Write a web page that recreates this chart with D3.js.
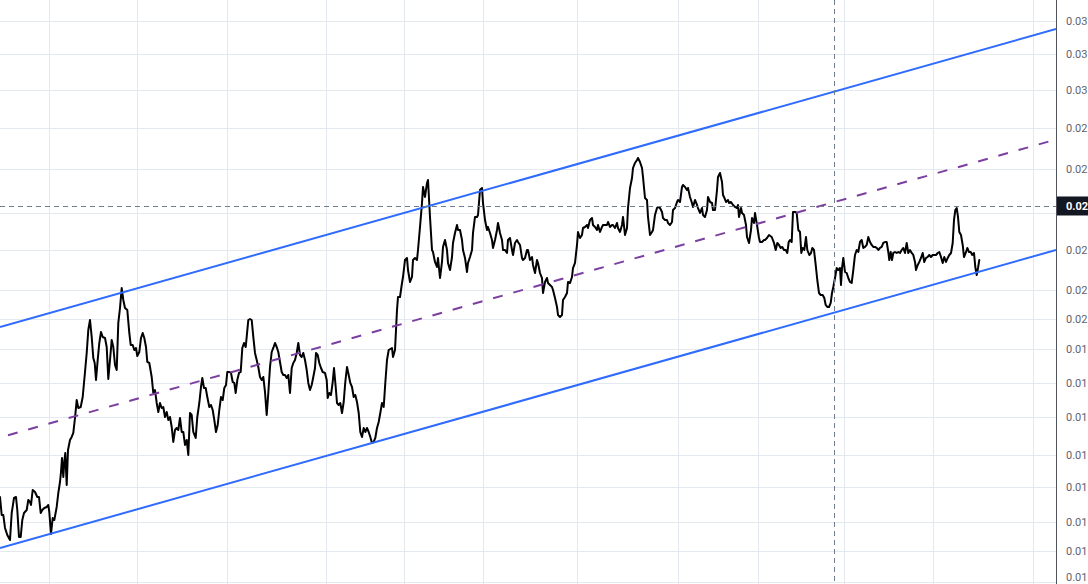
<!DOCTYPE html>
<html><head><meta charset="utf-8">
<script src="https://cdn.jsdelivr.net/npm/d3@7"></script>
<style>html,body{margin:0;padding:0;background:#fff;}svg{display:block;}</style>
</head><body><svg id="c" width="1088" height="584"></svg>
<script>
// ---- data ----
const yTickValues = [0.034,0.032,0.030,0.028,0.026,0.024,0.02242,0.02085,0.01978,0.01873,0.01761,0.01655,0.01545,0.01457,0.01367,0.01297,0.01226];
const yTickLabels = ["0.03","0.03","0.03","0.02","0.02","0.02","0.02","0.02","0.02","0.01","0.01","0.01","0.01","0.01","0.01","0.01","0.01"];
const xGridDays = [24.65,68.25,113.65,162.75,202.15,241.65,288.65,339.15,378.75,422,466.25,516.65];
const upperChannel = [[0,0.019492],[528,0.033509]];
const lowerChannel = [[0,0.013042],[528,0.022421]];
const midChannel = [[4,0.016012],[528,0.027410]];
const crossDay = 417;
const crossPrice = 0.024289;
const crossLabel = "0.02";
const priceSeries = [
[0,0.014310],[0.85,0.013849],[1.65,0.013849],[2.5,0.013526],[3.65,0.013355],[5,0.013233],[5.85,0.013899],[7,0.014284],[8,0.014310],[8.65,0.013975],
[9.5,0.013306],[10.35,0.013306],[11.15,0.013723],[12,0.013899],[13.35,0.013975],[14.15,0.014231],[15,0.014180],[15.5,0.014103],[16.35,0.014493],[17.5,0.014440],
[18.65,0.014310],[19.5,0.014310],[20.35,0.013899],[21.15,0.013975],[22.15,0.014027],[23.35,0.014052],[24.15,0.014103],[24.65,0.013925],[25.5,0.013379],[26.35,0.013773],
[27.15,0.013723],[28.35,0.014052],[29.15,0.014414],[30,0.014705],[30.5,0.014975],[31,0.015361],[31.65,0.014840],[32.15,0.015250],[32.65,0.015502],[33.35,0.014625],
[34,0.015586],[35,0.015872],[35.85,0.015959],[36.65,0.016076],[37.5,0.016520],[38.35,0.017069],[39.15,0.016823],[40.35,0.016854],[41.35,0.017163],[42.5,0.017961],
[43.35,0.018593],[44.15,0.019386],[45,0.019742],[45.85,0.019142],[46.65,0.018424],[47.35,0.018257],[48,0.017701],[48.85,0.018357],[49.65,0.018934],[50.5,0.019316],
[51.35,0.019142],[52.5,0.019107],[53.35,0.018796],[54.15,0.017734],[55,0.018357],[55.85,0.019037],[56.65,0.018796],[57.5,0.018191],[58.35,0.018026],[59.15,0.019635],
[60,0.020177],[60.85,0.020924],[61.65,0.020473],[62.5,0.020177],[63.65,0.020104],[64.65,0.019281],[65.35,0.018865],[66.35,0.018865],[67.15,0.018694],[68,0.018762],
[68.65,0.018491],[69.65,0.018626],[70.5,0.019107],[71.35,0.019281],[72.15,0.019107],[73,0.018796],[73.65,0.018291],[74.65,0.018257],[75.85,0.017799],[76.65,0.017288],
[77.5,0.017382],[78.35,0.016977],[79.15,0.016701],[80,0.016977],[80.85,0.016823],[81.65,0.016854],[82.5,0.016550],[83.35,0.016701],[84.15,0.016460],[85,0.016550],
[85.85,0.016252],[86.65,0.015815],[87.5,0.016163],[88.35,0.016222],[89.15,0.016163],[90,0.016520],[90.85,0.016105],[91.65,0.016105],[92.5,0.015729],[93.35,0.015872],
[94.15,0.015445],
[95,0.016671],[95.85,0.016611],[96.65,0.016105],[97.85,0.015930],[98.65,0.016550],[99.65,0.016977],[100.5,0.017478],[101.15,0.017766],[102,0.017446],[102.85,0.017446],
[103.65,0.017163],[104.65,0.016854],[105.5,0.016915],[106.35,0.016762],[107.15,0.016460],[108,0.016105],[108.85,0.016311],[109.65,0.016762],[110.5,0.017163],[111.35,0.017069],
[112.15,0.017446],[113,0.017542],[113.65,0.017961],[114.65,0.017961],[115.5,0.017929],[116.35,0.017637],[117.15,0.017606],[117.85,0.017288],[118.65,0.017701],[119.5,0.017929],
[120.35,0.017961],[121.15,0.018762],[122,0.018934],[122.85,0.018796],[123.35,0.019142],[124.15,0.019742],[125,0.019778],[125.85,0.019742],[126.65,0.019142],[127.5,0.018593],
[128.35,0.018357],[129.15,0.018125],[130,0.017799],[130.85,0.017701],[131.65,0.017799],[132.5,0.017320],[133.35,0.016611],[134.15,0.017288],[135,0.018125],[135.85,0.018626],
[136.65,0.018762],[137.5,0.018934],[138.35,0.018796],[139.15,0.018626],[140,0.018291],[140.85,0.017961],[141.65,0.017864],[142.5,0.017864],[143.35,0.017766],[144.15,0.017864],
[145,0.017288],[145.85,0.018092],[146.65,0.018257],[147.5,0.018357],[148.35,0.018593],[149.15,0.018934],[150,0.018525],[150.85,0.018458],[151.65,0.018593],[152.5,0.018357],
[153.35,0.018026],[154.15,0.017606],[155,0.017382],[155.85,0.017542],[156.65,0.017799],[157.5,0.018092],[158,0.018593],[158.85,0.018525],[159.65,0.018257],[160.5,0.018092],
[161.35,0.017961],[162.5,0.017929],[163.35,0.017701],[163.85,0.017132],[164.65,0.017288],[165.5,0.017226],[166.35,0.017637],[167,0.018092],[167.85,0.017478],[168.5,0.016977],
[169.35,0.016915],[170.15,0.016977],[171,0.016671],[171.85,0.017008],[172.65,0.017637],[173.5,0.018125],[174.35,0.017864],[175.15,0.017606],[176,0.017478],[176.85,0.017163],
[177.65,0.017226],[178.5,0.017008],[179.35,0.016671],[180.15,0.016105],[181,0.015959],[181.85,0.016222],[182.65,0.016105],[183.5,0.016222],[184.35,0.016105],[185.15,0.015959],
[186,0.015786],[186.85,0.015815],[187.65,0.015930],[188.5,0.016222],[189.35,0.016400],[190.15,0.016671],[191,0.016977],[191.85,0.016854],[192.65,0.017606],[193.5,0.018357],
[194.35,0.018694],
[196,0.018762],[196.5,0.018458],[197.5,0.018694],[198.5,0.020104],[199,0.020585],[200,0.020585],[201,0.021116],[201.5,0.021347],[202.5,0.022017],[203.5,0.022098],
[204,0.021620],[205,0.021154],[206,0.021347],[206.5,0.022017],[207.5,0.022098],[208.5,0.022017],[209,0.022421],[210,0.023379],[211,0.024422],[211.5,0.025143],
[212.5,0.024690],[213.5,0.025326],[214,0.025464],[215,0.023809],[216,0.022421],[216.5,0.022340],[217.5,0.021938],[218.5,0.021739],[219,0.022098],[220,0.021308],
[221,0.021938],[221.5,0.022545],[222.5,0.022832],[223.5,0.022421],[224,0.021898],[225,0.021620],[226,0.022138],[226.5,0.022709],[227.5,0.023126],[228.5,0.023464],
[229,0.023251],[230,0.023251],[231,0.022832],[231.5,0.022421],[232.5,0.022098],[233.5,0.021542],[234,0.021898],[235,0.022138],[236,0.022421],[236.5,0.023126],
[237.5,0.023809],[238.5,0.023809],[239,0.023895],[240,0.025005],[241,0.025097],[241.5,0.024422],[242.5,0.023678],[243.5,0.023251],[244,0.023379],[245,0.023126],
[246,0.022832],[246.5,0.022504],[247.5,0.022832],[248.5,0.023251],[249,0.023550],[250,0.023126],[251,0.022832],[251.5,0.022421],[252.5,0.022421],[253.5,0.022300],
[254,0.022832],[255,0.022916],[256,0.022421],[256.5,0.022219],[257.5,0.022709],[258.5,0.022832],[259,0.022750],[260,0.022627],[261,0.022098],[261.5,0.022017],
[262.5,0.022098],[263.5,0.022421],[264,0.022421],[265,0.022017],[266,0.022138],[266.5,0.021819],[267.5,0.021503],[268.5,0.022017],[269,0.021898],[270,0.021503],
[271,0.021308],[271.5,0.020735],[272.5,0.021154],[273.5,0.021308],[274,0.021116],[275,0.021039],[276,0.020963],[276.5,0.020848],[277.5,0.020547],[278.5,0.020214],
[279,0.019923],[280,0.019850],[281,0.019923],[281.5,0.020473],[282.5,0.020585],[283.5,0.020735],[284,0.021154],[285,0.021116],[286,0.021347],[286.5,0.021699],
[287.5,0.021898],[288.5,0.022627],[289,0.023168],[290,0.022916],[291,0.023042],[291.5,0.023336],[292.5,0.023379],[293.5,0.023464],[294,0.023336],[295,0.023678],
[296,0.023765],[296.5,0.023464],[297.5,0.023379],[298.5,0.023251],[299,0.023464],[300,0.023168],[301,0.023379],[301.5,0.023464],[303.5,0.023464],[304,0.023593],
[305,0.023379],[306,0.023464],[306.5,0.023464],[307.5,0.023336],[308.5,0.023550],[309,0.023336],[310,0.023168],[311,0.023464],[311.5,0.023809],[312.5,0.023042],
[313.5,0.023336],[314,0.024200],[315,0.025097],[316,0.025558],[316.5,0.026026],[317.5,0.026264],[318.5,0.026407],[319,0.026504],[320,0.026312],[321,0.026026],
[321.5,0.025604],[322.5,0.024645],[323.5,0.024555],[324,0.023809],[325,0.023042],[326,0.023168],[326.5,0.023251],[327.5,0.023895],[328.5,0.024200],[329,0.024245],
[330,0.024200],[331,0.024026],[331.5,0.023765],[332.5,0.023678],[333.5,0.023678],[334,0.023550],[335,0.023464],[336,0.023593],[336.5,0.024112],[337.5,0.024200],
[338.5,0.024466],[339,0.024555],[340,0.024466],[341,0.025143],[341.5,0.025235],[342.5,0.025143],[343.5,0.025005],[344,0.025097],[345,0.024690],[346,0.024422],
[346.5,0.024245],[347.5,0.024555],[348.5,0.024333],[349,0.024200],[350,0.023982],[351,0.024200],[351.5,0.023895],[352.5,0.023809],[353.5,0.024112],[354,0.024690],
[355,0.024466],[356,0.024422],[356.5,0.024112],[357.5,0.024112],[358.5,0.025005],[359,0.025604],[360,0.025791],
[361,0.025372],[361.5,0.024780],[362,0.024690],[363,0.024466],[364,0.024555],[364.5,0.024422],[365.5,0.024466],[366.5,0.024333],[367.5,0.024245],[368.5,0.024200],
[369,0.024333],[369.5,0.023809],[370.5,0.024200],[371,0.023982],[372,0.023895],[373,0.023464],[373.5,0.022958],[374.5,0.022709],[375.5,0.023251],[376,0.023765],
[377,0.023550],[377.5,0.023982],[378.5,0.023464],[379.5,0.022916],[380,0.022750],[381,0.022750],[382,0.022832],[382.5,0.022832],[383.5,0.022916],[384.5,0.023042],
[385.85,0.022958],[387,0.022709],[387.85,0.022421],[388.65,0.022709],[389.5,0.022627],[390.35,0.022504],[391.15,0.022545],[392,0.022421],[392.85,0.022421],[393.65,0.022300],
[394.35,0.022750],[395,0.022832],[395.85,0.022750],[396.5,0.024026],[397.5,0.024026],[398.35,0.023982],[399.15,0.023251],[400,0.023168],[400.65,0.022300],[401.35,0.022504],
[402.15,0.022421],[403,0.022958],[403.65,0.022421],[404.65,0.022219],[405.5,0.022300],[406.15,0.022504],[407,0.022421],[407.85,0.021819],[408.65,0.021231],[409.5,0.020735],
[410.35,0.020660],[411.35,0.020660],[412.15,0.020547],[412.85,0.020288],[413.65,0.020214],[414.5,0.020214],[415.35,0.020362],[416,0.020735],[416.65,0.020963],[417.5,0.021308],
[418.35,0.021699],[419.15,0.021620],[420,0.021699],[420.5,0.021039],[421,0.021699],[421.65,0.022098],[422.5,0.021542],[423.35,0.021503],[424.15,0.021308],[425,0.021154],
[425.85,0.021116],[426.65,0.021620],[427.5,0.022219],[428.35,0.022421],[429.15,0.022340],[430,0.022750],[430.85,0.022832],[431.65,0.022504],[432.5,0.022545],[433.35,0.022627],
[434.15,0.022958],[435,0.022750],[435.85,0.022627],[436.65,0.022545],[437.5,0.022545],[438.35,0.022504],[439.15,0.022421],[440,0.022504],[440.85,0.022545],[441.65,0.022709],
[442.5,0.022750],[443.35,0.022750],[444.15,0.022340],[444.65,0.022017],[445.35,0.022340],[446,0.022017],[446.65,0.022300],[447.5,0.022340],[448.35,0.022300],[449.15,0.022340],
[450,0.022300],[450.85,0.022421],[451.65,0.022504],[452.5,0.022300],[453.35,0.022709],[454.15,0.022300],[455,0.022421],[455.85,0.022300],[456.65,0.022219],[457.5,0.021938],
[458,0.021620],[458.85,0.021819],[459.65,0.021938],[460.5,0.022098],[461.35,0.022300],[462.15,0.021938],[463,0.022098],[463.85,0.022138],[464.65,0.022219],[465.5,0.022138],
[466.35,0.022219],[467.15,0.022219],[468,0.022219],[468.85,0.022300],[469.65,0.022340],[470.5,0.022138],[471.35,0.021898],[472.15,0.022138],[473,0.021938],[473.85,0.022098],
[474.65,0.022219],[475.5,0.022300],[476.35,0.022709],[477,0.023678],[477.65,0.024112],[478.35,0.024200],[479,0.023809],[479.65,0.023168],[480.5,0.023042],[481.35,0.022627],
[482,0.022138],[482.85,0.022300],[483.65,0.022504],[484.5,0.022340],[485.35,0.022340],[486.15,0.022219],[487,0.022300],[487.65,0.021739],[488.35,0.021425],[489,0.021699],
[489.65,0.022017]
];

// ---- drawing ----
const W = 1088, H = 584, plotW = 1056;
const svg = d3.select("#c");
svg.append("rect").attr("width", W).attr("height", H).attr("fill", "#ffffff");

const x = d3.scaleLinear().domain([0, 528]).range([0, plotW]);
const y = d3.scaleLog().domain([0.012216, 0.035323]).range([H, 0]);

svg.append("defs").append("clipPath").attr("id", "plotClip")
  .append("rect").attr("x", 0).attr("y", 0).attr("width", plotW).attr("height", H);

const grid = svg.append("g").attr("shape-rendering", "crispEdges");
grid.selectAll("line.h").data(yTickValues).join("line").attr("class", "h")
  .attr("x1", 0).attr("x2", plotW)
  .attr("y1", d => Math.round(y(d)) + 0.5).attr("y2", d => Math.round(y(d)) + 0.5)
  .attr("stroke", "#e3e9ef").attr("stroke-width", 1);
grid.selectAll("line.v").data(xGridDays).join("line").attr("class", "v")
  .attr("y1", 0).attr("y2", H)
  .attr("x1", d => Math.round(x(d)) + 0.5).attr("x2", d => Math.round(x(d)) + 0.5)
  .attr("stroke", "#e3e9ef").attr("stroke-width", 1);

const plot = svg.append("g").attr("clip-path", "url(#plotClip)");
const line = d3.line().x(d => x(d[0])).y(d => y(d[1]));

plot.append("path").datum(priceSeries).attr("d", line)
  .attr("fill", "none").attr("stroke", "#000000").attr("stroke-width", 2)
  .attr("stroke-linejoin", "round").attr("stroke-linecap", "round");

plot.append("path").datum(upperChannel).attr("d", line)
  .attr("fill", "none").attr("stroke", "#2f6bff").attr("stroke-width", 2);
plot.append("path").datum(lowerChannel).attr("d", line)
  .attr("fill", "none").attr("stroke", "#2f6bff").attr("stroke-width", 2);
plot.append("path").datum(midChannel).attr("d", line)
  .attr("fill", "none").attr("stroke", "#7b3fa0").attr("stroke-width", 2)
  .attr("stroke-dasharray", "10,11");

// crosshair
plot.append("line")
  .attr("x1", 0).attr("x2", plotW)
  .attr("y1", Math.round(y(crossPrice)) + 0.5).attr("y2", Math.round(y(crossPrice)) + 0.5)
  .attr("stroke", "#6f7f8f").attr("stroke-width", 1).attr("stroke-dasharray", "5,4");
plot.append("line")
  .attr("y1", 0).attr("y2", H)
  .attr("x1", Math.round(x(crossDay)) + 0.5).attr("x2", Math.round(x(crossDay)) + 0.5)
  .attr("stroke", "#6f7f8f").attr("stroke-width", 1).attr("stroke-dasharray", "5,4");

// right axis (labels hidden where the crosshair price label covers them, kept inside the view)
const cy = y(crossPrice);
const axis = d3.axisRight(y).tickValues(yTickValues)
  .tickFormat((d, i) => yTickLabels[i]).tickSize(0).tickPadding(10);
const ag = svg.append("g").attr("transform", `translate(${plotW},0)`).call(axis);
ag.select(".domain").remove();
ag.selectAll(".tick").each(function(d) {
  const ty = y(d);
  const g = d3.select(this);
  if (Math.abs(ty - cy) < 14) g.remove();
  else if (ty > H - 7) g.attr("transform", `translate(0,${H - 7})`);
});
ag.selectAll("text").attr("font-family", "Roboto, 'Noto Sans', sans-serif")
  .attr("font-size", 11).attr("fill", "#5f636d");
svg.append("line").attr("x1", plotW + 0.5).attr("x2", plotW + 0.5).attr("y1", 0).attr("y2", H)
  .attr("stroke", "#50535e").attr("stroke-width", 1);

// crosshair price label
svg.append("rect").attr("x", plotW + 1).attr("y", cy - 9.5).attr("width", W - plotW - 1).attr("height", 19)
  .attr("fill", "#131722");
svg.append("text").attr("x", plotW + 10).attr("y", cy).attr("dy", "0.35em")
  .attr("font-family", "Roboto, 'Noto Sans', sans-serif").attr("font-size", 11)
  .attr("font-weight", "bold").attr("fill", "#ffffff").text(crossLabel);
</script></body></html>
